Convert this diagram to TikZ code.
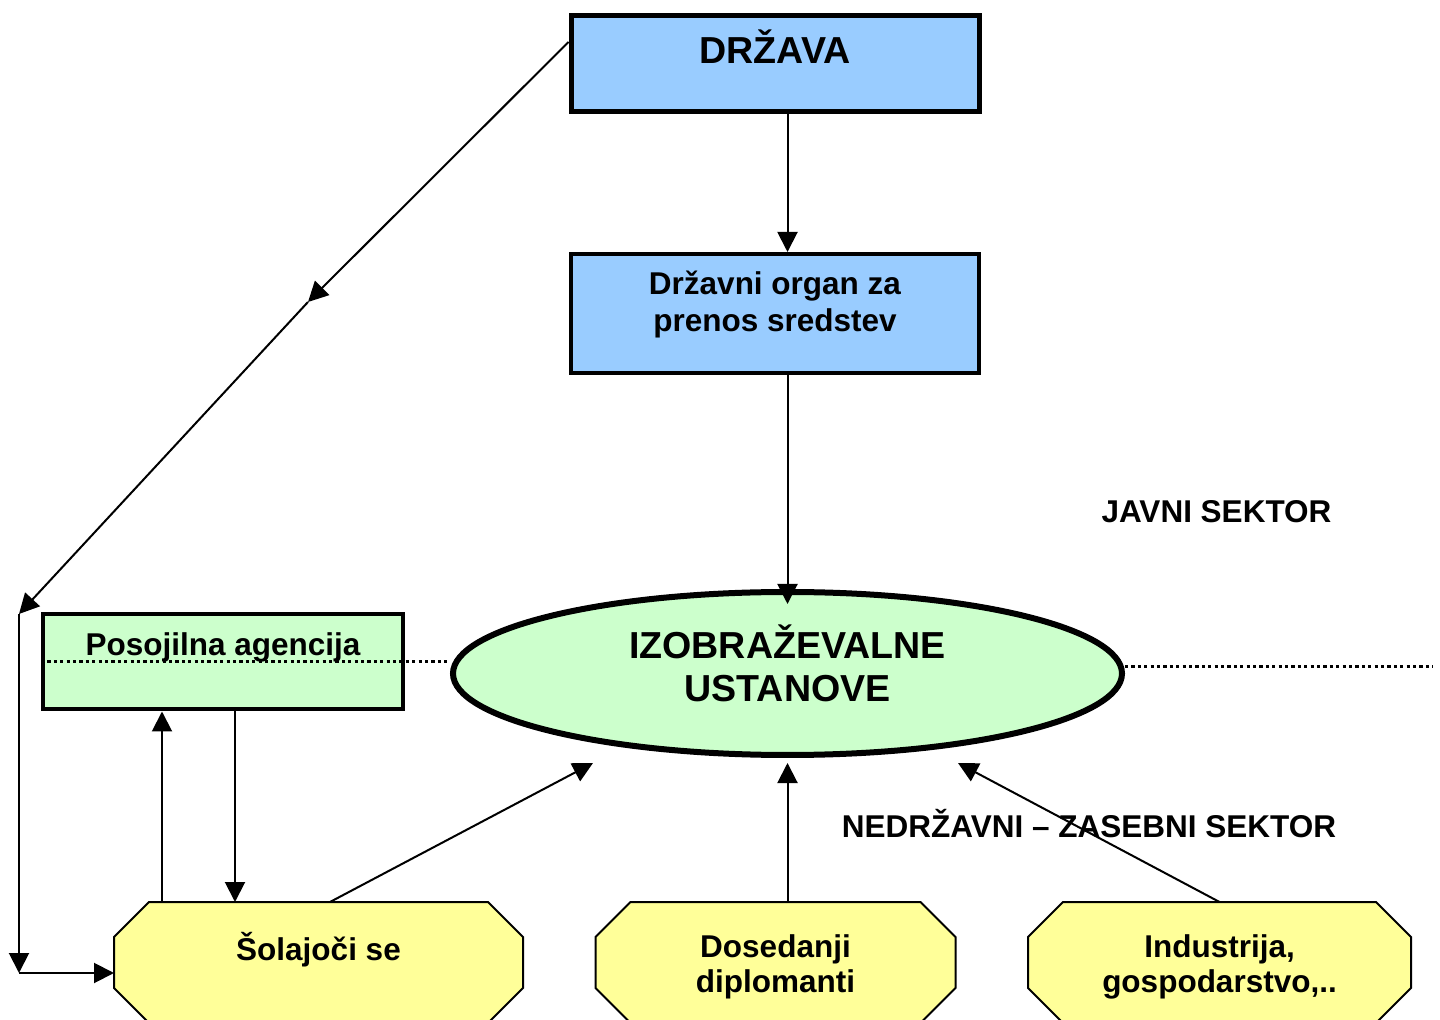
\documentclass[tikz,border=0pt]{standalone}
\usepackage{fontspec}
\setmainfont{Liberation Sans}
\usetikzlibrary{arrows.meta,backgrounds,calc,positioning,shapes.geometric}
\definecolor{StateBlue}{HTML}{99CCFF}
\definecolor{InstGreen}{HTML}{CCFFCC}
\definecolor{GroupYellow}{HTML}{FFFF99}
\newcommand{\bodyfont}{\fontsize{15.75}{18.5}\selectfont\bfseries}
\newcommand{\headfont}{\fontsize{18.8}{21.5}\selectfont\bfseries}

\begin{document}
\begin{tikzpicture}[
    x=0.5pt, y=-0.5pt,
    statebox/.style={draw, fill=StateBlue, inner sep=0pt, align=center},
    loanbox/.style={draw, fill=InstGreen, line width=2pt, inner sep=0pt, align=center},
    instellipse/.style={ellipse, draw, fill=InstGreen, line width=3pt, inner sep=0pt, align=center},
    groupbox/.style={inner sep=0pt, outer sep=0.5pt, minimum height=59.5pt, align=center,
      font=\fontsize{15.75}{17.5}\selectfont\bfseries},
    octline/.style={draw, fill=GroupYellow, line width=1pt},
    flow/.style={line width=1pt, -{Triangle[length=10pt,width=10pt]}},
    sectorline/.style={line width=1.5pt, dash pattern=on 1.6pt off 1.6pt},
    sectorlabel/.style={anchor=base, font=\bodyfont}
  ]
  \useasboundingbox (0,0) rectangle (1440,1020);
  \clip (0,0) rectangle (1440,1020);

  % public side
  \node[statebox, line width=2.5pt, minimum width=204pt, minimum height=48pt,
        font=\headfont, text height=14pt, text depth=14pt] (drzava) at (775,63.5) {DRŽAVA};
  \node[statebox, line width=2pt, minimum width=204pt, minimum height=59.5pt,
        font=\bodyfont, text height=23pt, text depth=4.5pt] (organ) at (775,313.5)
        {Državni organ za\\prenos sredstev};
  \node[loanbox, minimum width=180pt, minimum height=47.5pt,
        font=\bodyfont, text height=6pt, text depth=12pt] (agencija) at (223,662)
        {Posojilna agencija};
  \node[instellipse, minimum width=334.5pt, minimum height=81.5pt,
        font=\headfont, text height=31pt, text depth=2.5pt] (ustanove) at (787.5,673.5)
        {IZOBRAŽEVALNE\\USTANOVE};

  % sector split
  \coordinate (rightend) at (1433,667);
  \draw[sectorline] (agencija.west) -- (agencija.west -| ustanove.west);
  \draw[sectorline] ([yshift=3.25pt]ustanove.east) -- (rightend);
  \node[sectorlabel] (javni) at (1216.5,523) {JAVNI SEKTOR};
  \node[sectorlabel] (zasebni) at (1089,837) {NEDRŽAVNI – ZASEBNI SEKTOR};

  % private side
  \node[groupbox, minimum width=203.5pt, text height=5.5pt, text depth=8pt] (solajoci) at (318.5,962.5) {Šolajoči se};
  \node[groupbox, minimum width=179pt, text height=32pt, text depth=2.5pt] (diplomanti) at (775.5,962.5) {Dosedanji\\diplomanti};
  \node[groupbox, minimum width=190.5pt, text height=32pt, text depth=2.5pt] (industrija) at (1219.5,962.5) {Industrija,\\gospodarstvo,..};
  \begin{scope}[on background layer]
    \foreach \g in {solajoci,diplomanti,industrija}
      \path[octline] ([xshift=17.5pt]\g.north west) -- ([xshift=-17.5pt]\g.north east)
        -- ([yshift=-17.5pt]\g.north east) -- ([yshift=17.5pt]\g.south east)
        -- ([xshift=-17.5pt]\g.south east) -- ([xshift=17.5pt]\g.south west)
        -- ([yshift=17.5pt]\g.south west) -- ([yshift=-17.5pt]\g.north west) -- cycle;
  \end{scope}

  % money flows
  \draw[flow] (drzava.south -| ustanove) -- (organ.north -| ustanove);
  \draw[flow] (organ.south -| ustanove) -- ([yshift=-7.5pt]ustanove.north);
  \coordinate (bend) at (308,302);
  \coordinate (lefttop) at (19,614);
  \coordinate (leftbot) at (19,973);
  \draw[flow] ([yshift=10.75pt]drzava.west) -- (bend);
  \draw[flow] (bend) -- (lefttop);
  \draw[flow] (lefttop) -- (leftbot);
  \draw[flow] (leftbot) -- (leftbot -| solajoci.west);
  \draw[flow] ([xshift=-30.5pt]agencija.south |- solajoci.north) -- ([xshift=-30.5pt]agencija.south);
  \draw[flow] ([xshift=6pt]agencija.south) -- ([xshift=6pt]agencija.south |- solajoci.north);
  \draw[flow] ([xshift=5.75pt]solajoci.north) -- ([xshift=-97.25pt,yshift=-2.5pt]ustanove.south);
  \draw[flow] (diplomanti.north -| ustanove) -- ([yshift=-2.5pt]ustanove.south);
  \draw[flow] (industrija.north) -- ([xshift=85.25pt,yshift=-2.5pt]ustanove.south);
\end{tikzpicture}
\end{document}
